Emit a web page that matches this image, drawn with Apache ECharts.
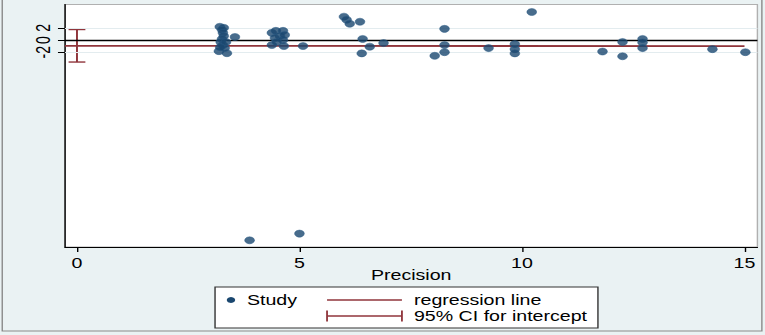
<!DOCTYPE html>
<html>
<head>
<meta charset="utf-8">
<script src="https://cdn.jsdelivr.net/npm/echarts@6/dist/echarts.min.js"></script>
<style>
  html, body { margin: 0; padding: 0; background: #eaf2f3; overflow: hidden; }
  #c { width: 546.43px; height: 335px; transform: scaleX(1.4); transform-origin: 0 0; }
</style>
</head>
<body>
<div id="c"></div>
<script>
// ---- data ----
const studyX = [3.21, 3.30, 3.26, 3.28, 3.30, 3.26, 3.23, 3.28, 3.19, 3.37, 3.32, 3.35, 3.55, 3.22,
  4.38, 4.47, 4.63, 4.56, 4.45, 4.63, 4.38, 4.65, 4.49, 4.67, 5.08,
  6.00, 6.06, 6.13, 6.36, 6.42, 6.58, 6.40, 6.89,
  8.26, 8.26, 8.26, 8.04,
  9.25, 9.84, 9.84, 9.84, 10.22, 11.81, 12.26, 12.26, 12.71, 12.71, 12.71, 14.28, 15.02,
  3.88, 5.00];
const studyY = [2.17, 2.0, 1.67, 1.17, 0.67, 0.17, -0.33, -0.83, -1.83, -2.17, -1.33, -0.33, 0.5, -1.2,
  1.17, 1.5, 1.5, 0.67, 0.33, 0.0, -0.83, -1.0, -0.33, 0.83, -1.0,
  3.83, 3.33, 2.67, 3.0, 0.17, -1.1, -2.2, -0.5,
  1.83, -0.83, -2.0, -2.6,
  -1.33, -0.67, -1.5, -2.2, 4.6, -1.9, -0.33, -2.67, 0.17, -0.4, -1.33, -1.5, -2.0,
  -32.9, -31.8];
const regX = [-0.27, 15.0];
const regY = [-0.95, -1.0];
const ciX = [0];
const ciLow = [-3.62];
const ciHigh = [1.72];
const xTicks = [0, 5, 10, 15];
const yTicks = [-2, 0, 2];
const gridYs = [-2, 2];
const xLabel = 'Precision';
const legendLabels = ['Study', 'regression line', '95% CI for intercept'];

// ---- axis ranges / styles ----
const X_MIN = -0.27, X_MAX = 15.29, Y_MIN = -34, Y_MAX = 5.83;
const FONT = "'Liberation Sans', Arial, sans-serif";
const BLUE = '#1a476f';
const RED = '#90353b';

const chart = echarts.init(document.getElementById('c'), null, { renderer: 'svg' });

const lx = 153.6, ly = 287, lw = 273.5, lh = 41;
const row1 = 300, row2 = 316;
const lineX0 = 233.6, lineX1 = 287.1, textX = 295.7;

chart.setOption({
  animation: false,
  backgroundColor: '#eaf2f3',
  grid: {
    left: 46.4, right: 5.0, top: 4.5, bottom: 88,
    show: true, backgroundColor: '#ffffff', borderColor: '#b0b0b0', borderWidth: 1
  },
  xAxis: {
    type: 'value', min: X_MIN, max: X_MAX,
    name: xLabel, nameLocation: 'middle', nameGap: 21, nameMoveOverlap: false,
    nameTextStyle: { fontFamily: FONT, fontSize: 14, color: '#000' },
    axisLine: { show: true, onZero: false, lineStyle: { color: '#000', width: 1 } },
    axisTick: { show: true, length: 5, customValues: xTicks, lineStyle: { color: '#000' } },
    axisLabel: { customValues: xTicks, fontFamily: FONT, fontSize: 14, color: '#000', margin: 9 },
    splitLine: { show: false }
  },
  yAxis: {
    type: 'value', min: Y_MIN, max: Y_MAX, interval: 2,
    axisLine: { show: true, onZero: false, lineStyle: { color: '#000', width: 1 } },
    axisTick: { show: true, length: 5, customValues: yTicks, lineStyle: { color: '#000' } },
    axisLabel: { show: false },
    splitLine: { show: false }
  },
  series: [
    {
      type: 'line', name: 'grid', data: [], silent: true,
      markLine: {
        symbol: 'none', silent: true, label: { show: false },
        lineStyle: { color: '#e3ecef', width: 1, type: 'solid' },
        data: gridYs.map(v => ({ yAxis: v }))
      }
    },
    {
      type: 'line', name: 'zero', data: [], silent: true, z: 3,
      markLine: {
        symbol: 'none', silent: true, label: { show: false },
        lineStyle: { color: '#000', width: 1.3, type: 'solid' },
        data: [{ yAxis: 0 }]
      }
    },
    {
      // rotated y-axis tick labels, placed through the y scale
      type: 'custom', name: 'yLabels', silent: true, clip: false, z: 6,
      data: yTicks.map(v => [X_MIN, v]),
      encode: { x: 0, y: 1 },
      renderItem: function (params, api) {
        const p = api.coord([api.value(0), api.value(1)]);
        return {
          type: 'text', x: p[0] - 15.5, y: p[1], rotation: Math.PI / 2,
          style: { text: String(api.value(1)), font: '14px ' + FONT, fill: '#000', align: 'center', verticalAlign: 'middle' }
        };
      }
    },
    {
      type: 'line', name: legendLabels[1], z: 4,
      data: regX.map((x, i) => [x, regY[i]]),
      showSymbol: false, lineStyle: { color: RED, width: 1.8 }
    },
    {
      type: 'custom', name: legendLabels[2], z: 4,
      data: ciX.map((x, i) => [x, ciLow[i], ciHigh[i]]),
      encode: { x: 0, y: [1, 2] },
      renderItem: function (params, api) {
        const x = api.value(0);
        const p1 = api.coord([x, api.value(1)]);
        const p2 = api.coord([x, api.value(2)]);
        const hw = 6;
        const st = { stroke: RED, lineWidth: 1.4, fill: null };
        return {
          type: 'group',
          children: [
            { type: 'line', shape: { x1: p1[0], y1: p1[1], x2: p2[0], y2: p2[1] }, style: st },
            { type: 'line', shape: { x1: p1[0] - hw, y1: p1[1], x2: p1[0] + hw, y2: p1[1] }, style: st },
            { type: 'line', shape: { x1: p2[0] - hw, y1: p2[1], x2: p2[0] + hw, y2: p2[1] }, style: st }
          ]
        };
      }
    },
    {
      type: 'scatter', name: legendLabels[0], z: 5,
      data: studyX.map((x, i) => [x, studyY[i]]),
      symbol: 'circle', symbolSize: 7,
      itemStyle: { color: BLUE, borderColor: '#2a5a85', borderWidth: 0.5 }
    }
  ],
  graphic: [
    { type: 'rect', shape: { x: 1.6, y: -2, width: 542.6, height: 333 },
      style: { fill: null, stroke: '#8a8a8a', lineWidth: 1 }, silent: true },
    { type: 'rect', shape: { x: lx, y: ly, width: lw, height: lh },
      style: { fill: '#ffffff', stroke: '#333', lineWidth: 1 }, silent: true },
    { type: 'circle', shape: { cx: 165, cy: row1, r: 3 }, style: { fill: BLUE } },
    { type: 'text', x: 176.4, y: row1, style: { text: legendLabels[0], font: '14px ' + FONT, fill: '#000', verticalAlign: 'middle', align: 'left' } },
    { type: 'line', shape: { x1: lineX0, y1: row1, x2: lineX1, y2: row1 }, style: { stroke: RED, lineWidth: 1.3 } },
    { type: 'text', x: textX, y: row1, style: { text: legendLabels[1], font: '14px ' + FONT, fill: '#000', verticalAlign: 'middle', align: 'left' } },
    { type: 'line', shape: { x1: lineX0, y1: row2, x2: lineX1, y2: row2 }, style: { stroke: RED, lineWidth: 1.3 } },
    { type: 'line', shape: { x1: lineX0, y1: row2 - 5.5, x2: lineX0, y2: row2 + 5.5 }, style: { stroke: RED, lineWidth: 1.3 } },
    { type: 'line', shape: { x1: lineX1, y1: row2 - 5.5, x2: lineX1, y2: row2 + 5.5 }, style: { stroke: RED, lineWidth: 1.3 } },
    { type: 'text', x: textX, y: row2, style: { text: legendLabels[2], font: '14px ' + FONT, fill: '#000', verticalAlign: 'middle', align: 'left' } }
  ]
});
</script>
</body>
</html>
